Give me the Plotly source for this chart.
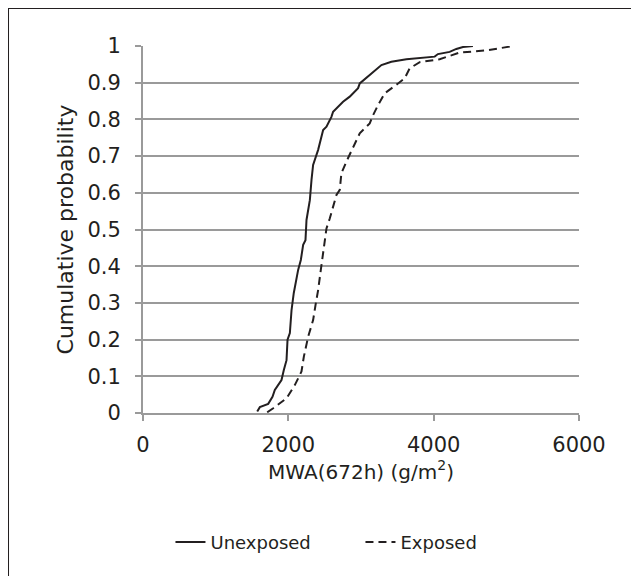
import plotly.graph_objects as go

# MWA(672h) values (g/m2) and cumulative probability
unexposed_mwa = [1572, 1608, 1723, 1782, 1814, 1906, 1938, 1975, 1989, 2021, 2044, 2066,
                 2075, 2135, 2172, 2204, 2236, 2250, 2296, 2319, 2341, 2410, 2433, 2479,
                 2525, 2593, 2616, 2753, 2845, 2960, 2983, 3167, 3281, 3418, 3625, 4014,
                 4059, 4220, 4312, 4403, 4540]
unexposed_p = [0.004, 0.016, 0.025, 0.044, 0.063, 0.09, 0.117, 0.144, 0.2, 0.218, 0.28, 0.308,
               0.327, 0.39, 0.417, 0.458, 0.471, 0.526, 0.58, 0.635, 0.676, 0.717, 0.735, 0.771,
               0.78, 0.807, 0.821, 0.848, 0.862, 0.885, 0.898, 0.93, 0.948, 0.957, 0.964, 0.971,
               0.978, 0.984, 0.992, 0.997, 1.0]

exposed_mwa = [1709, 1792, 1975, 2089, 2181, 2213, 2273, 2341, 2374, 2410, 2447, 2479, 2502,
               2525, 2570, 2616, 2662, 2708, 2730, 2799, 2891, 2983, 3120, 3167, 3235, 3326,
               3510, 3601, 3670, 3808, 4082, 4357, 4723, 5045, 5100]
exposed_p = [0.002, 0.013, 0.04, 0.076, 0.113, 0.153, 0.208, 0.253, 0.294, 0.335, 0.39, 0.435,
             0.471, 0.503, 0.53, 0.562, 0.594, 0.608, 0.653, 0.685, 0.726, 0.762, 0.789, 0.812,
             0.839, 0.871, 0.898, 0.912, 0.939, 0.956, 0.964, 0.982, 0.988, 0.997, 1.0]

x_ticks = [0, 2000, 4000, 6000]
y_ticks = [0, 0.1, 0.2, 0.3, 0.4, 0.5, 0.6, 0.7, 0.8, 0.9, 1]
y_ticklabels = ["0", "0.1", "0.2", "0.3", "0.4", "0.5", "0.6", "0.7", "0.8", "0.9", "1"]

INK = "#231f20"
GRID = "#9a9a9a"
FONT = "DejaVu Sans"

fig = go.Figure()
fig.add_trace(go.Scatter(x=unexposed_mwa, y=unexposed_p, mode="lines", name="Unexposed",
                         line=dict(color=INK, width=2)))
fig.add_trace(go.Scatter(x=exposed_mwa, y=exposed_p, mode="lines", name="Exposed",
                         line=dict(color=INK, width=2, dash="8px,5px")))

fig.update_layout(
    width=631, height=568,
    margin=dict(l=135, r=60, t=38, b=163),
    paper_bgcolor="white", plot_bgcolor="white",
    font=dict(family=FONT, color=INK, size=20),
    showlegend=True,
    legend=dict(orientation="h", x=0.063, xanchor="left", y=-0.352, yanchor="middle",
                entrywidth=145, entrywidthmode="pixels",
                font=dict(size=18, family=FONT, color=INK), bgcolor="rgba(0,0,0,0)"),
    xaxis=dict(range=[0, 6000], tickvals=x_ticks, ticktext=[str(v) for v in x_ticks],
               showgrid=False, zeroline=False, showline=True, linecolor=GRID, linewidth=2,
               ticks="outside", ticklen=6, tickwidth=2, tickcolor=GRID, automargin=False,
               tickfont=dict(size=21, family=FONT, color=INK), ticklabelstandoff=6,
               title=dict(text="MWA(672h) (g/m<sup>2</sup>)", font=dict(size=20, family=FONT, color=INK),
                          standoff=5)),
    yaxis=dict(range=[0, 1], tickvals=y_ticks, ticktext=y_ticklabels,
               showgrid=True, gridcolor=GRID, gridwidth=2, zeroline=False,
               showline=True, linecolor=GRID, linewidth=2, automargin=False,
               ticks="outside", ticklen=6, tickwidth=2, tickcolor=GRID,
               tickfont=dict(size=21, family=FONT, color=INK), ticklabelstandoff=10,
               title=dict(text="Cumulative probability", font=dict(size=22, family=FONT, color=INK),
                          standoff=8)),
)

# outer frame (left and top edges visible in the reference)
fig.add_shape(type="rect", xref="paper", yref="paper",
              x0=-0.3096, x1=1.2, y0=-1.2, y1=1.1035,
              line=dict(color=INK, width=2), fillcolor="rgba(0,0,0,0)", layer="below")

fig.write_html("out.html")
